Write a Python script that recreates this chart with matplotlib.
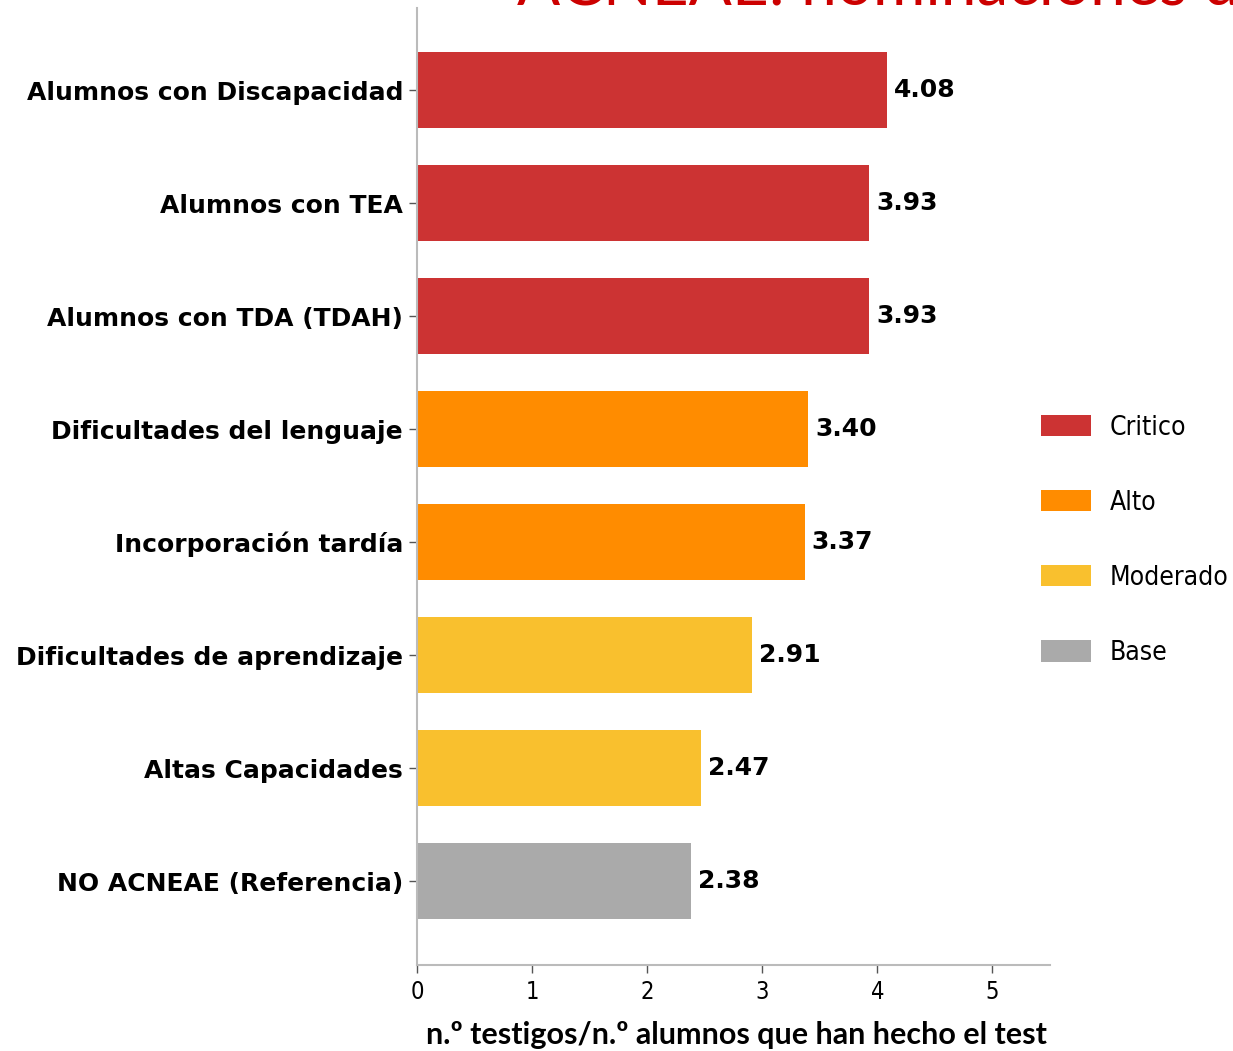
import matplotlib
matplotlib.use("Agg")
import matplotlib.pyplot as plt
from matplotlib.patches import Patch

# data
categories = ["Alumnos con Discapacidad", "Alumnos con TEA", "Alumnos con TDA (TDAH)",
              "Dificultades del lenguaje", "Incorporación tardía",
              "Dificultades de aprendizaje", "Altas Capacidades", "NO ACNEAE (Referencia)"]
values = [4.08, 3.93, 3.93, 3.40, 3.37, 2.91, 2.47, 2.38]
levels = ["Critico", "Critico", "Critico", "Alto", "Alto", "Moderado", "Moderado", "Base"]

level_names = ["Critico", "Alto", "Moderado", "Base"]
level_colours = {"Critico": "#cc3333", "Alto": "#ff8c00", "Moderado": "#f9c02e", "Base": "#aaaaaa"}
xticks = [0, 1, 2, 3, 4, 5]

narrow = ["DejaVu Sans Condensed", "Liberation Sans Narrow", "DejaVu Sans"]

fig = plt.figure(figsize=(12.33, 10.51), dpi=100)
ax = fig.add_axes([417/1233, 1 - 965/1051, (1050-417)/1233, (965-8)/1051])

ypos = list(range(len(categories)))
cols = [level_colours[l] for l in levels]
ax.barh(ypos, values, height=0.68, color=cols)

for y, v in zip(ypos, values):
  ax.text(v + 0.06, y, "%.2f" % v, va="center", ha="left",
          fontsize=18, fontweight="bold", family="DejaVu Sans")

ax.set_xlim(0, 5.5)
ax.set_ylim(7.743, -0.726)
ax.set_yticks(ypos)
ax.set_yticklabels(categories, fontsize=18, fontweight="bold", family="DejaVu Sans")
ax.set_xticks(xticks)
ax.set_xticklabels([str(t) for t in xticks], fontsize=17, family=narrow, fontstretch="condensed")
ax.tick_params(axis="y", length=6, width=1, color="#555555", pad=4)
ax.tick_params(axis="x", length=6, width=1, color="#555555", pad=5)

for s in ["top", "right"]:
  ax.spines[s].set_visible(False)
for s in ["left", "bottom"]:
  ax.spines[s].set_color("#bbbbbb")
  ax.spines[s].set_linewidth(1.5)

handles = [Patch(facecolor=level_colours[n], edgecolor="none") for n in level_names]
fig.legend(handles, level_names, loc="upper left", bbox_to_anchor=(1017/1233, 1 - 391/1051),
           frameon=False, handlelength=1.9, handleheight=0.87, labelspacing=1.86,
           handletextpad=0.72, prop={"family": narrow, "stretch": "condensed", "size": 19})

fig.text(736/1233, 1 - 1035/1051, "n.º testigos/n.º alumnos que han hecho el test",
         ha="center", va="center", fontsize=22, fontweight="bold", family="Lato")

# slide title, mostly cut off at the top of the screenshot
fig.text(517/1233, 1 - 5/1051, "ACNEAE: nominaciones de testigos", ha="left", va="baseline",
         fontsize=46, color="#cc0000", family="Lato")

fig.savefig("out.png", dpi=100)
